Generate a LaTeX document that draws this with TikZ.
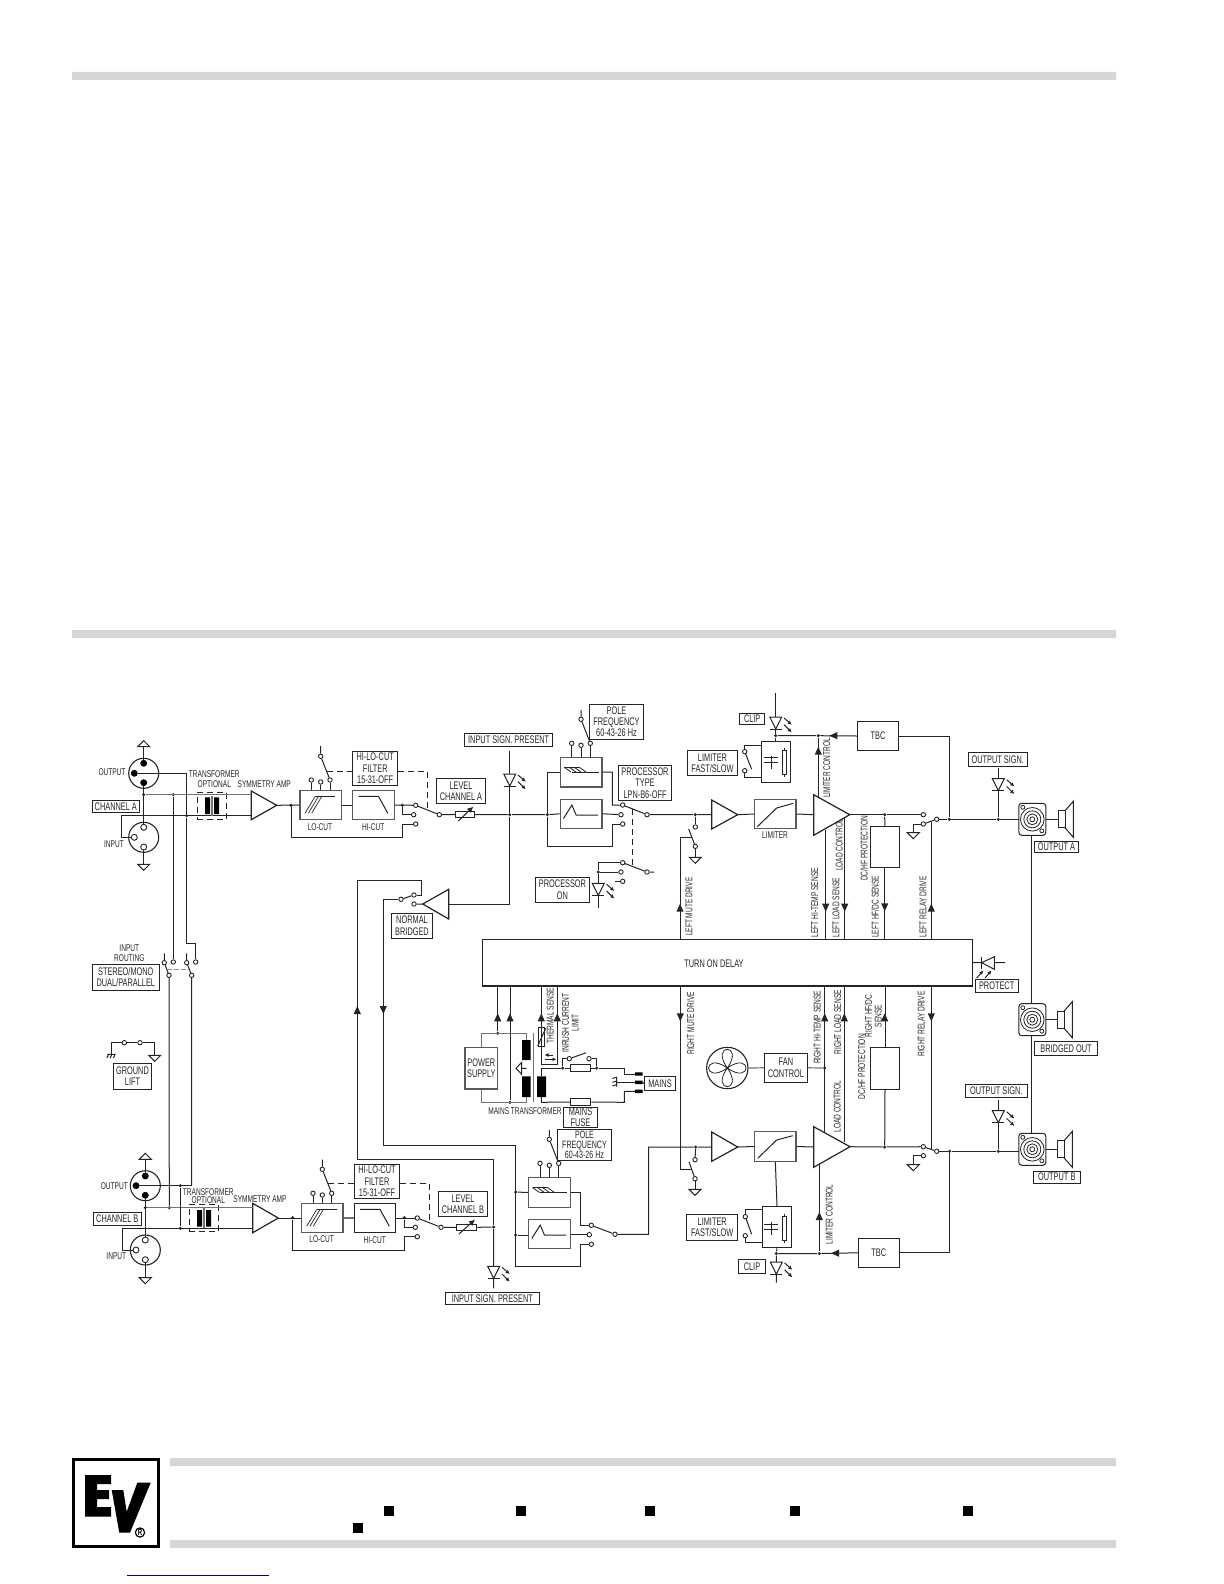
\documentclass[tikz,border=0pt]{standalone}
\usepackage{fontspec}
\setmainfont{Liberation Sans}[FakeStretch=0.67]
\usetikzlibrary{arrows.meta,calc,positioning}
\definecolor{barcol}{gray}{0.84}
\definecolor{inkcol}{gray}{0.14}
\newcommand{\lblfont}{\fontsize{5.5}{5.7}\selectfont}
\newcommand{\tagfont}{\fontsize{4.9}{4.9}\selectfont}
% box from its corners: style, name, x1, y1, x2, y2, text
\newcommand{\cornerbox}[7][labelbox]{%
  \node[#1, minimum width={(#5-#3)*0.5pt}, minimum height={(#6-#4)*0.5pt}] (#2) at ({(#3+#5)/2},{(#4+#6)/2}) {#7};}
\tikzset{
  labelbox/.style={draw=inkcol, line width=0.5pt, inner sep=0pt, align=center, font=\lblfont, text=inkcol},
  tightbox/.style={labelbox, font=\fontsize{5.3}{4.9}\selectfont},
  blockbox/.style={labelbox, line width=0.55pt},
  filterbox/.style={labelbox, draw=black!65, line width=0.75pt},
  dashbox/.style={labelbox, dashed, dash pattern=on 3pt off 2pt},
  tag/.style={inner sep=0pt, align=center, font=\tagfont, text=inkcol},
  sidetag/.style={tag, rotate=90},
  wire/.style={draw=inkcol, line width=0.5pt},
  softwire/.style={draw=black!55, line width=0.6pt},
  ctrl/.style={draw=inkcol, line width=0.5pt, dash pattern=on 3pt off 2pt},
  softctrl/.style={draw=black!45, line width=0.6pt, dash pattern=on 2.5pt off 1pt},
  ampsym/.style={draw=inkcol, line width=0.6pt, fill=white, line join=miter},
  contact/.style={circle, draw=inkcol, line width=0.45pt, fill=white, inner sep=0pt, minimum size=2.2pt},
  junction/.style={circle, fill=inkcol, inner sep=0pt, minimum size=1.7pt},
  pinfull/.style={circle, fill=black, draw=black, inner sep=0pt, minimum size=3pt},
  pinopen/.style={circle, fill=white, draw=inkcol, line width=0.45pt, inner sep=0pt, minimum size=3pt},
  xlrshell/.style={circle, draw=inkcol, line width=0.55pt, inner sep=0pt, minimum size=15pt},
  pics/gnddown/.style={code={\draw[wire, fill=white] (-6,0) -- (6,0) -- (0,6) -- cycle;}},
  pics/gndup/.style={code={\draw[wire, fill=white] (-6,0) -- (6,0) -- (0,-6) -- cycle;}},
  pics/headup/.style={code={\fill[inkcol] (0,-4) -- (3.6,4) -- (-3.6,4) -- cycle;}},
  pics/leddown/.style={code={
    \draw[wire, fill=white] (-6,-12) -- (6,-12) -- (0,0) -- cycle;
    \draw[wire] (-6,0) -- (6,0);
    \draw[line width=0.5pt, draw=inkcol, -{Latex[length=2pt,width=2pt]}] (8.3,-11) -- (16,-4.3);
    \draw[line width=0.5pt, draw=inkcol, -{Latex[length=2pt,width=2pt]}] (8.3,-4.3) -- (16,3.3);}},
  pics/speakon/.style={code={
    \draw[wire, rounded corners=1.5pt] (-13.5,-16) rectangle (13.5,16);
    \foreach \r in {2.5,5.5,8.5,11.8} \draw[draw=inkcol, line width=0.4pt] (0,0) circle[radius=\r];
    \draw[draw=inkcol, line width=0.4pt] (-9.5,-12) circle[radius=2] (9.5,11.5) circle[radius=2];}},
  pics/speaker/.style={code={
    \draw[wire] (0,-8.5) rectangle (6.7,8.5);
    \draw[wire] (6.7,-8.5) -- (15,-18) -- (15,18) -- (6.7,8.5);}},
  pics/xformer/.style={code={
    \fill[black] (-7,-8.3) rectangle (-2,8.3) (2,-8.3) rectangle (7,8.3);
    \draw[softwire] (-0.7,-10) -- (-0.7,10) (0.7,-10) -- (0.7,10);}},
  pics/lowcut/.style={code={
    \draw[wire] (-5.7,-8.3) -- (14.3,-8.3);
    \foreach \d in {0,3.3,6.6} \draw[draw=inkcol, line width=0.35pt] (-15.7+\d,8.3) -- (-5.7+\d,-8.3);}},
  pics/highcut/.style={code={\draw[wire] (-15,-8.7) -- (5,-8.7) -- (14.3,8.3);}},
  pics/pulpsym/.style={code={
    \draw[wire] (-17,-5) -- (-2,-5) (-9.3,0) -- (17.3,0);
    \foreach \d in {0,5,10,15} \draw[draw=inkcol, line width=0.4pt] (-17+\d,-5) -- (-10+\d,0);}},
  pics/bpfsym/.style={code={\draw[wire] (-17.7,4.7) -- (-9.3,-8.7) -- (-5,1.3) -- (16.7,1.3);}},
  pics/capres/.style={code={
    \draw[wire] (-7,-3) -- (7.3,-3) (-7,2.3) -- (7.3,2.3) (0,-5) -- (0,8.3);
    \draw[wire] (11,-10.5) rectangle (15.5,13.5) (13.2,-13) -- (13.2,-10.5) (13.2,13.5) -- (13.2,16);}},
}
\begin{document}
\begin{tikzpicture}[x=0.5pt,y=-0.5pt]
  \useasboundingbox (0,0) rectangle (1224,1584);
  % page rules and logo
  \fill[barcol] (72,72) rectangle (1116,80) (72,630) rectangle (1116,638);
  \fill[barcol] (170,1458) rectangle (1116,1466) (170,1540) rectangle (1116,1548);
  \draw[black, line width=1.5pt] (73.5,1459.5) rectangle (158.5,1546.5);
  \fill[black] (85,1475) -- (111,1475) -- (111,1484) -- (97,1484) -- (97,1490) -- (109,1490) -- (109,1499) -- (97,1499) -- (97,1507) -- (111,1507) -- (111,1516.7) -- (85,1516.7) -- cycle;
  \fill[black] (111.7,1490) -- (123.3,1490) -- (126.7,1511.7) -- (137.3,1482.7) -- (150.7,1482.7) -- (130,1532.7) -- (119.3,1532.7) -- cycle;
  \node[circle, draw=black, line width=0.6pt, inner sep=0.3pt, font=\fontsize{4.5}{5}\bfseries\selectfont] (regmark) at (140,1532.5) {R};
  \foreach \x/\y in {384/1506,516/1506,645/1506,790/1506,963/1506,353/1523}
    \fill[black] (\x,\y) rectangle ++(10,9.5);
  \draw[blue!60!black, line width=0.5pt] (127,1575.5) -- (269,1575.5);

  % contacts
  \foreach \n/\x/\y in {
    lowa0/320.7/756.3, lowa1/311.3/780, lowa2/320.7/782, lowa3/330/780,
    filta1/415.7/805.3, filta2/413.7/814.7, filta3/415.7/824, filtao/439.3/814.7,
    norm1/414/895, norm2/414/904, normo/401/899.3,
    pola0/581/719.3, pola1/571.7/743.3, pola2/581/745.3, pola3/590.3/743.3,
    proca1/622.7/805, proca2/621/814.7, proca3/622.7/824, procao/647/814.7,
    pron1/622.7/862.7, pron2/621/872, pron3/622.7/881.3, prono/647/872,
    mutea1/695.3/827, mutea2/695.3/846.3, lima1/744.7/751.7, lima2/744.7/770.7,
    rela1/923.3/814.7, rela2/923.3/824, relao/936.7/819.3,
    rta1/164.3/962.7, rta2/173.3/962, rta0/169/975.3, rtb1/186.7/962.7, rtb2/195.7/962, rtb0/191.7/975.3,
    gl1/124.3/1042.7, gl2/140/1042.7,
    lowb0/322.3/1169.3, lowb1/313/1193.3, lowb2/322.3/1195, lowb3/331.7/1193.3,
    filtb1/417.3/1218, filtb2/415.3/1227.3, filtb3/417.3/1236.7, filtbo/441/1227.3,
    polb0/549.3/1139.3, polb1/540/1163.3, polb2/549.3/1165.3, polb3/558.7/1163.3,
    procb1/591.3/1225.3, procb2/589.3/1234.7, procb3/591.3/1244.3, procbo/615/1234.3,
    muteb1/695/1159.7, muteb2/695/1178.7, limb1/745.3/1216.7, limb2/745.3/1235.7,
    relb1/923.3/1146.7, relb2/923.3/1155.7, relbo/936.7/1151.3,
    rlya/569.3/1058.7, rlyb/589/1058.7}
    \node[contact] (\n) at (\x,\y) {};
  % junctions
  \foreach \n/\x/\y in {
    ja1/143.7/794.7, ja2/173.3/794.7, ja3/186.7/815.7, ja4/291/805.3, ja5/402.3/805.3,
    jlvla/509.7/814.7, jproca/547.3/814.7, jpron/598.3/872, jmutea/695.3/814.7, jclipa/775.7/735.7,
    jlctla/818.3/735.7, jdca/884.7/814.7, jtbca/949.3/819.3, jouta/998.3/819.3,
    jb1/145.3/1207.7, jb2/169.3/1207.7, jb3/180.3/1185.7, jb4/180.3/1228.3, jb5/292.7/1217.7, jb6/404.3/1217.7,
    jlvlb/493.7/1227, jprb1/515.7/1192, jprb2/515.7/1235, jmuteb/695.7/1147, jclipb/776.3/1253.5,
    jlctlb/819.3/1253.5, jdcb/884.7/1147, jtbcb/949.7/1151.3, joutb/998.3/1151.3, jfan/824.7/1068,
    jps1/497.7/1033.3, jps2/510/1102.3, jmn1/562.7/1068, jmn2/596.7/1068}
    \node[junction] (\n) at (\x,\y) {};

  % main blocks
  \cornerbox[blockbox]{delay}{482.3}{939.3}{972.3}{986}{}
  \node[tag, font=\lblfont] (tdelay) at (714,964) {TURN ON DELAY};
  \cornerbox[filterbox]{lowa}{300}{790.3}{341.3}{819.7}{}
  \cornerbox[filterbox]{hia}{352.7}{790.3}{394.3}{819.7}{}
  \cornerbox[filterbox]{lowb}{301.7}{1203.3}{343}{1232.7}{}
  \cornerbox[blockbox]{hib}{354.3}{1203.3}{395.7}{1232.7}{}
  \cornerbox[filterbox]{pulpa}{560.3}{757.3}{602}{787}{}
  \cornerbox[filterbox]{bpfa}{560.3}{799.3}{602}{828.3}{}
  \cornerbox[filterbox]{pulpb}{528.7}{1177.7}{570.3}{1207.3}{}
  \cornerbox[filterbox]{bpfb}{528.7}{1219.3}{570.3}{1248.3}{}
  \cornerbox[filterbox]{lmta}{754.7}{799.3}{796}{828.7}{}
  \cornerbox[filterbox]{lmtb}{754.7}{1131.7}{796}{1161.3}{}
  \cornerbox[blockbox]{capa}{761.7}{741.3}{790.7}{782.3}{}
  \cornerbox[blockbox]{capb}{762.3}{1206.7}{791.7}{1247.7}{}
  \cornerbox[blockbox]{tbca}{857.3}{721.3}{898.7}{750.7}{TBC}
  \cornerbox[blockbox]{tbcb}{858.3}{1238.3}{899.3}{1267.3}{TBC}
  \cornerbox[blockbox]{dca}{870.3}{826.3}{899.3}{867.7}{}
  \cornerbox[blockbox]{dcb}{870.7}{1047.3}{899.3}{1089.3}{}
  \cornerbox[filterbox]{psu}{465}{1047.3}{497.7}{1089}{POWER\\SUPPLY}
  \cornerbox[blockbox]{resa}{455.7}{811.7}{474.3}{817.7}{}
  \cornerbox[blockbox]{resb}{456.7}{1224.3}{476.7}{1230.3}{}
  \cornerbox[dashbox]{xfa}{197.3}{792.3}{226.7}{819.3}{}
  \cornerbox[dashbox]{xfb}{189.3}{1204.3}{218.7}{1231.3}{}

  % labelled boxes
  \cornerbox{lchana}{92.3}{800.7}{139.3}{812.3}{CHANNEL A}
  \cornerbox{lchanb}{93.3}{1212.7}{141.3}{1225.3}{CHANNEL B}
  \cornerbox{lhiloa}{352.7}{751.3}{397.7}{785.7}{HI-LO-CUT\\FILTER\\15-31-OFF}
  \cornerbox{lhilob}{354.3}{1164.3}{399.7}{1198.3}{HI-LO-CUT\\FILTER\\15-31-OFF}
  \cornerbox{llevela}{436.3}{778.3}{485.7}{803.7}{LEVEL\\CHANNEL A}
  \cornerbox{llevelb}{438.3}{1191.3}{487.7}{1216.7}{LEVEL\\CHANNEL B}
  \cornerbox{lsiga}{464.7}{733.3}{552.7}{746.7}{INPUT SIGN. PRESENT}
  \cornerbox{lsigb}{445.3}{1292.3}{539.3}{1304.3}{INPUT SIGN. PRESENT}
  \cornerbox{lpola}{589.3}{704.3}{643.7}{739.3}{POLE\\FREQUENCY\\60-43-26 Hz}
  \cornerbox[tightbox]{lpolb}{557.7}{1129.3}{611.3}{1160.7}{POLE\\FREQUENCY\\60-43-26 Hz}
  \cornerbox{lproct}{618.3}{765.3}{671.7}{800.7}{PROCESSOR\\TYPE\\LPN-B6-OFF}
  \cornerbox{lprocon}{535.3}{877.3}{589.7}{902.3}{PROCESSOR\\ON}
  \cornerbox{lnormal}{391.7}{913.3}{432.3}{938.3}{NORMAL\\BRIDGED}
  \cornerbox{lclipa}{739.7}{713.3}{764.7}{724.3}{CLIP}
  \cornerbox{lclipb}{738.7}{1259.7}{765.3}{1273.3}{CLIP}
  \cornerbox{lfasta}{687.7}{750.7}{737.3}{775.3}{LIMITER\\FAST/SLOW}
  \cornerbox{lfastb}{686.7}{1214.3}{737.7}{1240.3}{LIMITER\\FAST/SLOW}
  \cornerbox{loutsa}{968.3}{752.7}{1027.3}{766.7}{OUTPUT SIGN.}
  \cornerbox{loutsb}{965.3}{1084}{1027.3}{1097.3}{OUTPUT SIGN.}
  \cornerbox{louta}{1034.3}{841.7}{1078.7}{852.7}{OUTPUT A}
  \cornerbox{loutb}{1033.3}{1171}{1080.3}{1183.3}{OUTPUT B}
  \cornerbox{lbridge}{1034.7}{1041.7}{1097.3}{1055.7}{BRIDGED OUT}
  \cornerbox{lprotect}{975}{979}{1018.3}{992.3}{PROTECT}
  \cornerbox{lrouting}{92.3}{964}{159.3}{990}{STEREO/MONO\\DUAL/PARALLEL}
  \cornerbox{lground}{113.7}{1063.3}{151.3}{1089.3}{GROUND\\LIFT}
  \cornerbox{lfan}{764.5}{1053.3}{807.3}{1082.3}{FAN\\CONTROL}
  \cornerbox{lmains}{644.3}{1076.7}{675.7}{1090.3}{MAINS}
  \cornerbox{lfuse}{563.3}{1107.3}{597.7}{1127.3}{MAINS\\FUSE}

  % plain labels
  \node[tag] (toa) at (112,772.5) {OUTPUT};
  \node[tag] (tia) at (114,843.7) {INPUT};
  \node[tag] (ttra) at (214.3,774.3) {TRANSFORMER};
  \node[tag] (topa) at (214.3,784) {OPTIONAL};
  \node[tag] (tama) at (264.3,784) {SYMMETRY AMP};
  \node[tag] (tloa) at (320,827) {LO-CUT};
  \node[tag] (thia) at (373.3,827) {HI-CUT};
  \node[tag] (tlima) at (775,835) {LIMITER};
  \node[tag] (tob) at (114.3,1185.7) {OUTPUT};
  \node[tag] (tib) at (116.3,1255.7) {INPUT};
  \node[tag] (ttrb) at (208.3,1191.7) {TRANSFORMER};
  \node[tag] (topb) at (208.3,1200) {OPTIONAL};
  \node[tag] (tamb) at (260,1199) {SYMMETRY AMP};
  \node[tag] (tlob) at (321.7,1239) {LO-CUT};
  \node[tag] (thib) at (374.7,1240) {HI-CUT};
  \node[tag] (tinr) at (129.3,953) {INPUT\\ROUTING};
  \node[tag] (tmtr) at (525,1111) {MAINS TRANSFORMER};
  \node[sidetag] (tmd1) at (689,906.7) {LEFT MUTE DRIVE};
  \node[sidetag] (tlc1) at (826.7,768) {LIMITER CONTROL};
  \node[sidetag] (tht1) at (814.7,902.7) {LEFT HI-TEMP SENSE};
  \node[sidetag] (tls1) at (836,907.7) {LEFT LOAD SENSE};
  \node[sidetag] (tlo1) at (839.3,845) {LOAD CONTROL};
  \node[sidetag] (tdc1) at (864,848.3) {DC/HF PROTECTION};
  \node[sidetag] (thf1) at (875,906.7) {LEFT HF/DC SENSE};
  \node[sidetag] (trl1) at (923,906.7) {LEFT RELAY DRIVE};
  \node[sidetag] (tmd2) at (690.7,1023.3) {RIGHT MUTE DRIVE};
  \node[sidetag] (tlc2) at (829.3,1214.3) {LIMITER CONTROL};
  \node[sidetag] (tht2) at (817.3,1027.3) {RIGHT HI-TEMP SENSE};
  \node[sidetag] (tls2) at (837.7,1022.3) {RIGHT LOAD SENSE};
  \node[sidetag] (tlo2) at (837.3,1106.7) {LOAD CONTROL};
  \node[sidetag] (tdc2) at (861.7,1066.7) {DC/HF PROTECTION};
  \node[sidetag] (thf2) at (873.3,1016) {RIGHT HF/DC\\SENSE};
  \node[sidetag] (trl2) at (921.3,1024) {RIGHT RELAY DRIVE};
  \node[sidetag] (tth) at (550.3,1015.7) {THERMAL SENSE};
  \node[sidetag] (tin) at (570.3,1023) {INRUSH CURRENT\\LIMIT};

  % xlr sockets
  \node[xlrshell] (oa) at (143.7,773.3) {};
  \node[pinfull] (oa1) at (143.7,763.3) {};
  \node[pinfull] (oa2) at (134.3,773.3) {};
  \node[pinfull] (oa3) at (143.7,782.7) {};
  \node[xlrshell] (ia) at (143.7,837.3) {};
  \node[pinopen] (ia1) at (143.7,827.3) {};
  \node[pinopen] (ia2) at (134.3,837.3) {};
  \node[pinopen] (ia3) at (143.7,847) {};
  \node[xlrshell] (ob) at (145.3,1185.7) {};
  \node[pinfull] (ob1) at (145.3,1176) {};
  \node[pinfull] (ob2) at (136,1185.7) {};
  \node[pinfull] (ob3) at (145.3,1195.3) {};
  \node[xlrshell] (ib) at (145.3,1250) {};
  \node[pinopen] (ib1) at (145.3,1240) {};
  \node[pinopen] (ib2) at (136,1250) {};
  \node[pinopen] (ib3) at (145.3,1259.7) {};
  \pic at (143.7,746.7) {gndup};
  \pic at (143.7,864.3) {gnddown};
  \pic at (145.3,1159.3) {gndup};
  \pic at (145.3,1277.7) {gnddown};
  \coordinate (gxa1) at (143.7,746.7);
  \coordinate (gxa2) at (143.7,864.3);
  \coordinate (gxb1) at (145.3,1159.3);
  \coordinate (gxb2) at (145.3,1277.7);
  \coordinate (ca) at (121.7,815.7);
  \coordinate (cb) at (122.7,1228.3);
  \coordinate (ampat) at (251.3,794.7);
  \coordinate (ampab) at (251.3,815.7);
  \coordinate (ampbt) at (252.7,1207.7);
  \coordinate (ampbb) at (252.7,1228.3);

  % amplifiers
  \draw[ampsym] (251.3,791) -- (276.7,805.3) coordinate (ampa) -- (251.3,819.7) -- cycle;
  \draw[ampsym] (252.7,1203.3) -- (278.3,1218) coordinate (ampb) -- (252.7,1232.7) -- cycle;
  \draw[ampsym] (448.7,889.3) -- (422.7,904) coordinate (ampn) -- (448.7,919) -- cycle;
  \draw[ampsym] (711.7,800) -- (737.7,814.7) coordinate (preao) -- (711.7,829) -- cycle;
  \draw[ampsym] (711.7,1132) -- (737.7,1147) coordinate (prebo) -- (711.7,1161.3) -- cycle;
  \draw[ampsym] (813.7,794.7) -- (849.7,814.7) coordinate (pwrao) -- (813.7,835.3) -- cycle;
  \draw[ampsym] (813.7,1126.7) -- (850,1146.7) coordinate (pwrbo) -- (813.7,1167.3) -- cycle;
  \coordinate (preai) at (711.7,814.7);
  \coordinate (prebi) at (711.7,1147);
  \coordinate (pwrai) at (813.7,814.7);
  \coordinate (pwrbi) at (813.7,1147);
  \coordinate (ampni) at (448.7,904);

  % block edge taps
  \foreach \n/\x/\y in {
    tmute/680/939.3, ttemp/825.7/939.3, tload/844.7/939.3, trelay/931.3/939.3,
    bmute/680.3/986, btemp/824.7/986, bload/844.3/986, brelay/931.3/986,
    bps1/497.7/986, bps2/510/986, bth1/541.3/986, bth2/557.3/986,
    atemp/825.7/829.5, aload/844.7/818, btempa/824.7/1133, bloada/844.3/1142,
    lctl1/818.3/797, lctl2/819.3/1164,
    armma/692/837.3, armmb/691.5/1169.3, armra/927/821.7, armrb/927/1150.7,
    topoa/775.7/693.3, clipab/775.7/729, clipbb/776.3/1282.7}
    \coordinate (\n) at (\x,\y);

  % channel A input
  \draw[wire] (gxa1) -- (oa1) (oa3) -- (ia1) (ia3) -- (gxa2);
  \draw[softwire] (ja1) -- (ampat);
  \draw[wire] (ia2) -| (ca) -- (ampab);
  \draw[wire] (oa2) -- (oa2 -| ja3) -- (ja3);
  \draw[wire] (ja3) |- (rtb2 |- 0,943) -- (rtb2);
  \draw[wire] (ja2) -- (rta2);
  \pic at (212,805.7) {xformer};
  \draw[wire] (ampa) -- (lowa.west);
  \draw[wire] (lowa.east) -- (hia.west);
  \draw[wire] (hia.east) -- (filta1);
  \draw[wire] (ja5) |- (filta2);
  \draw[wire] (ja4) |- (ja5 |- 0,837.3) -- (ja5 |- filta3) -- (filta3);
  \draw[wire] (filta1) -- (filtao) -- (resa.west);
  \draw[wire] (lowa0) -- (lowa0 |- 0,746) (lowa0) -- (lowa3);
  \foreach \c in {lowa1,lowa2,lowa3} \draw[wire] (\c) -- (\c |- lowa.north);
  \coordinate (dasha) at (327,771);
  \coordinate (arma) at (427.3,810);
  \draw[ctrl] (dasha) -- (dasha -| lhiloa.west) (dasha -| lhiloa.east) -| (arma);
  \pic at (320.7,805) {lowcut};
  \pic at (373.5,805) {highcut};
  \draw[wire] (resa.east) -- (jlvla) -- (jproca) -- (bpfa.west);
  \draw[draw=inkcol, line width=0.5pt, -{Latex[length=3pt,width=3pt]}] (458.3,821) -- (473.3,806.7);

  % input signal led and bridged feed
  \draw[wire] (509.7,751) -- (jlvla) -- (509.7,904) -- (ampni);
  \pic at (509.7,786) {leddown};
  \draw[wire] (norm2) -- (ampn) (normo) -- (norm1);
  \draw[wire] (norm1) -- (421.3,895) |- (357.3,880.3) |- (jlvlb |- 0,1159) -- (jlvlb);
  \draw[wire] (normo) -| (383.3,1145.3) -- (515.7,1145.3) -- (515.7,1266) -| (procb3 -| 580.7,0) -- (580.7,1244.3) -- (procb3);
  \pic at (357.3,1010) {headup};
  \pic[rotate=180] at (383.3,1010) {headup};

  % processor A
  \draw[wire] (jproca) |- (pulpa.west);
  \draw[wire] (jproca) |- (612.3,846) -- (612.3,824) -- (proca3);
  \draw[wire] (pulpa.east) -- (612.3,772.2) -- (612.3,805) -- (proca1);
  \draw[wire] (bpfa.east) -- (proca2);
  \draw[wire] (proca1) -- (procao) -- (jmutea) -- (preai);
  \foreach \c in {pola1,pola2,pola3} \draw[wire] (\c) -- (\c |- pulpa.north);
  \draw[wire] (pola0) -- (581,710) (pola0) -- (pola3);
  \pic at (581.2,772.2) {pulpsym};
  \pic at (581.2,813.8) {bpfsym};
  \coordinate (dashp1) at (632.3,809);
  \coordinate (dashp2) at (632.3,866.5);
  \draw[ctrl] (dashp1) -- (dashp2);
  \draw[wire] (pron1) -- (prono) -- (654.3,872);
  \draw[wire] (pron1) -| (jpron) -- (pron2);
  \draw[wire] (pron3) -- (615,881.3);
  \draw[wire] (jpron) -- (598.3,908.3);
  \pic at (598.3,895.3) {leddown};

  % limiter A
  \draw[wire] (jmutea) -- (mutea1);
  \draw[wire] (mutea2) -- (mutea2 |- 0,857.3);
  \pic at (695.3,857.3) {gnddown};
  \draw[wire] (688.7,829) -- (mutea2);
  \draw[wire] (armma) -| (tmute);
  \pic at (680,907.7) {headup};
  \draw[wire] (preao) -- (lmta.west);
  \draw[wire] (lmta.east) -- (pwrai);
  \draw[wire] (757.3,826.7) -- (776.7,808) -- (793.3,803.3);
  \draw[wire] (topoa) -- (jclipa) -- (capa.north -| jclipa);
  \pic at (775.7,729) {leddown};
  \pic at (771,760.5) {capres};
  \draw[wire] (lima1) |- (capa.north west |- 0,745);
  \draw[wire] (lima2) |- (capa.south west |- 0,777);
  \draw[wire] (lima1) -- (751.7,769.3);
  \draw[wire] (lctl1) -- (jlctla);
  \pic at (818.3,750.7) {headup};
  \draw[wire] (tbca.west) -- (jlctla) -- (jclipa);
  \pic[rotate=90] at (833.3,735.7) {headup};
  \draw[wire] (tbca.east) -| (jtbca);

  % output A
  \draw[wire] (atemp) -- (ttemp);
  \pic[rotate=180] at (825.7,907.7) {headup};
  \draw[wire] (aload) -- (tload);
  \pic[rotate=180] at (844.7,907.7) {headup};
  \draw[wire] (pwrao) -- (jdca) -- (rela1);
  \draw[wire] (jdca) -- (dca.north);
  \draw[wire] (dca.south) -- (dca.south |- delay.north);
  \pic[rotate=180] at (884.7,907.3) {headup};
  \draw[wire] (relao) -- (rela2);
  \draw[wire] (rela2) -| (913.3,832.7);
  \pic at (913.3,832.7) {gnddown};
  \draw[wire] (trelay) -- (931.3,821.5);
  \pic at (931.3,907.7) {headup};
  \draw[wire] (relao) -- (jtbca) -- (jouta) -- (1019,819.3);
  \draw[wire] (998.3,768.3) -- (jouta);
  \pic at (998.3,790.7) {leddown};
  \pic at (1032.3,819.3) {speakon};
  \coordinate (spkra) at (1058.3,819.3);
  \draw[wire] (1045.7,819.3) -- (spkra);
  \pic at (spkra) {speaker};
  \pic at (1032.3,1019.7) {speakon};
  \coordinate (spkrc) at (1057.3,1019.7);
  \draw[wire] (1045.8,1019.7) -- (spkrc);
  \pic at (spkrc) {speaker};
  \pic at (1032.3,1149.3) {speakon};
  \coordinate (spkrb) at (1057.3,1149.3);
  \draw[wire] (1045.8,1149.3) -- (spkrb);
  \pic at (spkrb) {speaker};
  \draw[wire] (1031.7,835.3) -- (1031.7,1003.7) (1031.7,1035.7) -- (1031.7,1133.3);

  % protect led
  \draw[wire] (delay.east) -- (1005,962.7);
  \draw[wire, fill=white] (994.3,956.7) -- (994.3,969.3) -- (981.7,962.7) -- cycle;
  \draw[wire] (981.7,956.7) -- (981.7,969.3);
  \draw[line width=0.5pt, draw=inkcol, -{Latex[length=2pt,width=2pt]}] (976.7,978) -- (983.3,970.5);
  \draw[line width=0.5pt, draw=inkcol, -{Latex[length=2pt,width=2pt]}] (985,978) -- (991.5,970.5);

  % routing and ground lift
  \draw[wire] (rta1) -- (164.3,953.3) (rta1) -- (rta0) -- (jb2);
  \draw[wire] (rtb1) -- (186.7,953.3) (rtb1) -- (rtb0) -- (rtb0 |- ob2);
  \coordinate (rtda) at (166.5,969.3);
  \coordinate (rtdb) at (189,969.3);
  \draw[softctrl] (rtda) -- (rtdb);
  \draw[wire] (gl1) -- (111.7,1042.7) -- (111.7,1054.3);
  \draw[wire] (107.3,1054.3) -- (115.7,1054.3) (108.5,1054.3) -- (107,1058) (111.7,1054.3) -- (110.2,1058) (115,1054.3) -- (113.5,1058);
  \draw[wire] (gl1) -- (gl2) -- (154.7,1042.7) -- (154.7,1055.3);
  \pic at (154.7,1055.3) {gnddown};

  % channel B input
  \draw[wire] (gxb1) -- (ob1) (ob3) -- (ib1) (ib3) -- (gxb2);
  \draw[softwire] (jb1) -- (ampbt);
  \draw[wire] (ib2) -| (cb) -- (ampbb);
  \draw[wire] (ob2) -- (rtb0 |- ob2);
  \draw[wire] (jb3) -- (jb4);
  \pic at (204,1218.3) {xformer};
  \draw[wire] (ampb) -- (lowb.west);
  \draw[softwire] (lowb.east) -- (hib.west);
  \draw[wire] (hib.east) -- (filtb1);
  \draw[wire] (jb6) |- (filtb2);
  \draw[wire] (jb5) |- (jb6 |- 0,1250) -- (jb6 |- filtb3) -- (filtb3);
  \draw[wire] (filtb1) -- (filtbo) -- (resb.west);
  \draw[wire] (lowb0) -- (lowb0 |- 0,1159.5) (lowb0) -- (lowb3);
  \foreach \c in {lowb1,lowb2,lowb3} \draw[wire] (\c) -- (\c |- lowb.north);
  \coordinate (dashb) at (328.3,1183.3);
  \coordinate (armb) at (429.3,1222);
  \draw[ctrl] (dashb) -- (dashb -| lhilob.west) (dashb -| lhilob.east) -| (armb);
  \pic at (322.3,1218) {lowcut};
  \pic at (375,1218) {highcut};
  \draw[wire] (resb.east) -- (jlvlb) -- (493.7,1288.3);
  \pic at (493.7,1278.3) {leddown};
  \draw[draw=inkcol, line width=0.5pt, -{Latex[length=3pt,width=3pt]}] (459,1234) -- (475,1219.5);

  % processor B
  \draw[wire] (jprb1) -- (pulpb.west);
  \draw[wire] (jprb2) -- (bpfb.west |- jprb2);
  \draw[wire] (pulpb.east) -- (580.7,1192.5) -- (580.7,1225.3) -- (procb1);
  \draw[wire] (bpfb.east |- procb2) -- (procb2);
  \draw[wire] (procb1) -- (procbo) -| (648.7,1147) -- (jmuteb) -- (prebi);
  \foreach \c in {polb1,polb2,polb3} \draw[wire] (\c) -- (\c |- pulpb.north);
  \draw[wire] (polb0) -- (549.3,1130) (polb0) -- (polb3);
  \pic at (549.5,1192.5) {pulpsym};
  \pic at (549.5,1233.8) {bpfsym};

  % limiter B
  \draw[wire] (jmuteb) -- (muteb1);
  \draw[wire] (muteb2) -- (muteb2 |- 0,1189.3);
  \pic at (695,1189.3) {gnddown};
  \draw[wire] (689,1161.7) -- (muteb2);
  \draw[wire] (armmb) -| (bmute);
  \pic[rotate=180] at (680.3,1017.3) {headup};
  \draw[wire] (prebo) -- (lmtb.west);
  \draw[wire] (lmtb.east) -- (pwrbi);
  \draw[wire] (757.7,1158.3) -- (776.7,1140) -- (792.7,1135.7);
  \draw[wire] (lmtb.south) -- (capb.north);
  \draw[wire] (capb.south) -- (jclipb) -- (clipbb);
  \pic at (776.3,1274) {leddown};
  \pic at (771,1227) {capres};
  \draw[wire] (limb1) |- (capb.north west |- 0,1209.3);
  \draw[wire] (limb2) |- (capb.south west |- 0,1242.3);
  \draw[wire] (limb1) -- (751.7,1234.3);
  \draw[wire] (lctl2) -- (jlctlb);
  \pic at (819.3,1216) {headup};
  \draw[wire] (tbcb.west) -- (jlctlb) -- (jclipb);
  \pic[rotate=90] at (835,1253.2) {headup};
  \draw[wire] (tbcb.east) -| (jtbcb);

  % output B
  \draw[wire] (btempa) -- (btemp);
  \pic at (824.7,1017.3) {headup};
  \draw[wire] (bloada) -- (bload);
  \pic at (844.3,1017.3) {headup};
  \draw[softwire] (lfan.east) -- (jfan);
  \draw[wire] (pwrbo) -- (jdcb) -- (relb1);
  \draw[wire] (jdcb) -- (dcb.south);
  \draw[wire] (dcb.north) -- (dcb.north |- delay.south);
  \pic at (884.7,1017.3) {headup};
  \draw[wire] (relbo) -- (relb1);
  \draw[wire] (relb2) -| (913.3,1164.7);
  \pic at (913.3,1164.7) {gnddown};
  \draw[wire] (brelay) -- (931.3,1149.5);
  \pic[rotate=180] at (931.3,1017.3) {headup};
  \draw[wire] (relbo) -- (jtbcb) -- (joutb) -- (1018.7,1151.3);
  \draw[wire] (998.3,1100) -- (joutb);
  \pic at (998.3,1122.7) {leddown};

  % fan
  \node[circle, draw=inkcol, line width=0.55pt, inner sep=0pt, minimum size=20.7pt] (fan) at (727.3,1068) {};
  \foreach \a in {0,90,180,270}
    \draw[draw=inkcol, line width=0.4pt, rotate around={\a:(727.3,1068)}] (727.3,1068) .. controls (745,1043) and (709.6,1043) .. (727.3,1068);
  \draw[softwire] (fan.east) -- (lfan.west);

  % power section
  \draw[wire] (bps1) -- (jps1);
  \draw[wire] (bps2) -- (jps2);
  \foreach \x in {497.7,510,541.3,557.3} \pic at (\x,1017.3) {headup};
  \draw[softwire] (psu.north) |- (526.7,1033.3) -- (526.7,1040);
  \draw[softwire] (psu.south) |- (526.7,1102.3) -- (526.7,1097);
  \draw[wire] (bth1) -- (541.3,1064) -- (557.3,1064) -- (bth2);
  \fill[black] (522,1040) rectangle (530.7,1060) (522,1076.3) rectangle (530.7,1097) (537,1076.3) rectangle (546,1097);
  \draw[wire] (516,1068.3) -- (521.7,1062.3) -- (521.7,1074.3) -- cycle (521.7,1068.3) -- (526.7,1068.3);
  \draw[softwire] (533.7,1033.3) -- (533.7,1102.3);
  \cornerbox[blockbox]{thermr}{538.7}{1027.3}{544.7}{1046.7}{}
  \draw[wire] (537.7,1046) -- (545.7,1028.3);
  \draw[line width=0.5pt, draw=inkcol, {Latex[length=2pt,width=2pt]}-] (544.5,1055) -- (553,1055);
  \draw[line width=0.5pt, draw=inkcol, -{Latex[length=2pt,width=2pt]}] (544.5,1059.3) -- (556.5,1059.3);
  \cornerbox[blockbox]{rinr}{570.3}{1064.3}{590.7}{1071.7}{}
  \cornerbox[blockbox]{fuse}{570.3}{1098.3}{590.7}{1105.7}{}
  \fill[black] (635,1072.3) rectangle (642.7,1075.7) (635,1080.7) rectangle (642.7,1084) (635,1089.7) rectangle (642.7,1093);
  \coordinate (plug1) at (635,1074);
  \coordinate (plug2) at (635,1082.3);
  \coordinate (plug3) at (635,1091.3);
  \draw[wire] (541.3,1076.3) -- (541.3,1068) -- (jmn1) -- (rinr.west);
  \draw[wire] (rinr.east) -- (jmn2) -- (624.3,1068) -- (624.3,1074) -- (plug1);
  \draw[wire] (541.3,1097) -- (541.3,1102.3) -- (fuse.west);
  \draw[wire] (fuse.east) -- (624.3,1102.3) -- (624.3,1091.3) -- (plug3);
  \draw[wire] (jmn1) |- (rlya);
  \draw[wire] (jmn2) |- (rlyb);
  \draw[wire] (rlya) -- (586,1052.8);
  \draw[wire] (plug2) -- (616.7,1082.3);
  \draw[wire] (616.7,1077) -- (616.7,1086.5) (612.5,1078.5) -- (616.7,1077) (612.5,1082.3) -- (616.7,1081) (612.5,1086) -- (616.7,1084.5);
  \draw[wire] (lmains.west) -- (642.7,1082.3);
\end{tikzpicture}
\end{document}
